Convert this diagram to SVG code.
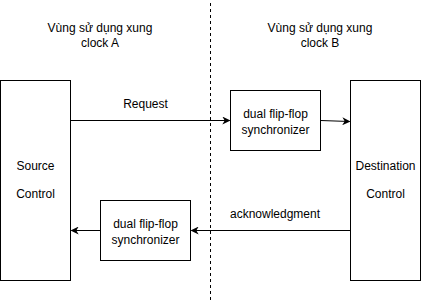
<svg xmlns="http://www.w3.org/2000/svg" width="421" height="302" viewBox="0 0 421 302">
  <style>
    .box { fill: #ffffff; stroke: #000000; stroke-width: 1; }
    .wire { fill: none; stroke: #000000; stroke-width: 1; }
    .divider { fill: none; stroke: #000000; stroke-width: 1; stroke-dasharray: 3 3; }
    text { font-family: "Liberation Sans", Arial, Helvetica, sans-serif; font-size: 12px; fill: #000000; text-anchor: middle; }
  </style>
  <defs>
    <marker id="arrow" viewBox="0 0 10 10" refX="9" refY="5" markerWidth="8" markerHeight="8" markerUnits="userSpaceOnUse" orient="auto">
      <path d="M0,0 L10,5 L0,10 L3,5 Z" fill="#000000"/>
    </marker>
  </defs>
  <rect width="421" height="302" fill="#ffffff"/>

  <!-- clock domain boundary -->
  <line class="divider" x1="210.5" y1="3" x2="210.5" y2="302"/>

  <!-- domain labels -->
  <g id="label-clock-a">
    <text x="100" y="32">Vùng sử dụng xung</text>
    <text x="100" y="47">clock A</text>
  </g>
  <g id="label-clock-b">
    <text x="320" y="32">Vùng sử dụng xung</text>
    <text x="320" y="47">clock B</text>
  </g>

  <!-- nodes -->
  <g id="source-control">
    <rect class="box" x="0.5" y="80.5" width="70" height="200"/>
    <text x="35.5" y="170">Source</text>
    <text x="35.5" y="198">Control</text>
  </g>
  <g id="destination-control">
    <rect class="box" x="350.5" y="80.5" width="70" height="200"/>
    <text x="385.5" y="170">Destination</text>
    <text x="385.5" y="198">Control</text>
  </g>
  <g id="sync-b">
    <rect class="box" x="230.5" y="90.5" width="90" height="60"/>
    <text x="275.5" y="118">dual flip-flop</text>
    <text x="275.5" y="134">synchronizer</text>
  </g>
  <g id="sync-a">
    <rect class="box" x="100.5" y="200.5" width="90" height="60"/>
    <text x="145.5" y="228">dual flip-flop</text>
    <text x="145.5" y="244">synchronizer</text>
  </g>

  <!-- connectors -->
  <g id="connectors">
    <line class="wire" x1="70.5" y1="120.5" x2="229.5" y2="120.5" marker-end="url(#arrow)"/>
    <line class="wire" x1="320.5" y1="120.5" x2="349.5" y2="121.5" marker-end="url(#arrow)"/>
    <line class="wire" x1="350.5" y1="230.5" x2="191.5" y2="230.5" marker-end="url(#arrow)"/>
    <line class="wire" x1="100.5" y1="230.5" x2="71.5" y2="230.5" marker-end="url(#arrow)"/>
    <text x="145.5" y="108">Request</text>
    <text x="275" y="218">acknowledgment</text>
  </g>
</svg>
